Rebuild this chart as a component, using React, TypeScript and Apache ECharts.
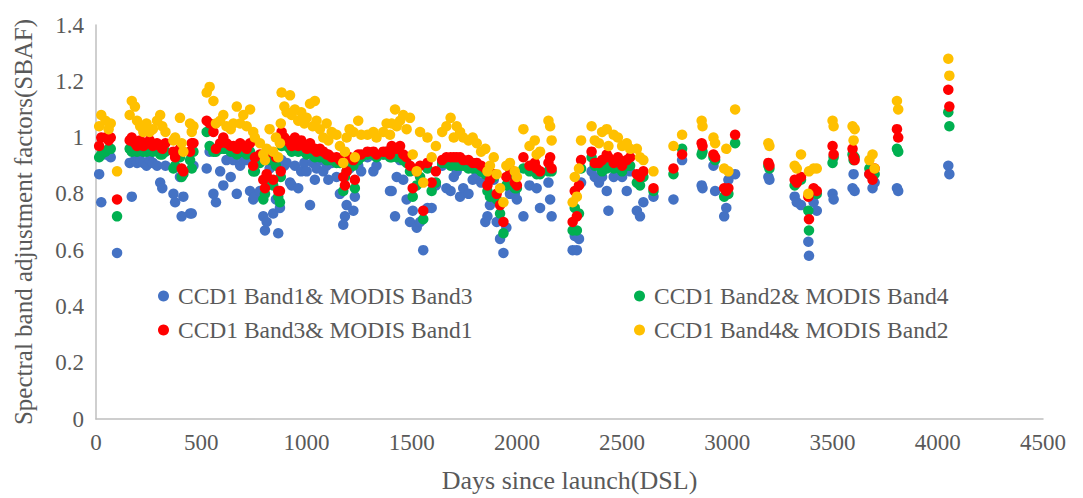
import React, { useEffect, useRef } from "react";
import * as echarts from "echarts";

const seriesNames = [
  "CCD1 Band1& MODIS Band3",
  "CCD1 Band2& MODIS Band4",
  "CCD1 Band3& MODIS Band1",
  "CCD1 Band4& MODIS Band2",
];
const colors = ["#4472C4", "#00B050", "#FF0000", "#FFC000"];

const days = [
  15, 25, 45, 60, 70, 100,
  160, 170, 185, 195, 210, 225, 240, 255, 270, 290, 305, 315, 330,
  368, 376, 399, 407, 415, 447, 455, 463,
  526, 540, 558, 570, 590, 605, 620, 640, 653, 669, 685,
  700, 716, 732, 747, 755, 779, 795, 803, 811, 825, 842, 855, 866, 874, 878,
  882, 895, 906, 922, 930, 945, 961, 975, 990, 1001, 1017, 1030, 1040, 1048,
  1064, 1080, 1096, 1104, 1120, 1143, 1159, 1175, 1183, 1191, 1205, 1223, 1230, 1246, 1260,
  1290, 1318, 1333, 1365, 1381, 1397,
  1405, 1421, 1429, 1445, 1460, 1476, 1492, 1505, 1524, 1540, 1555, 1575, 1595, 1615,
  1645, 1665, 1685, 1700, 1714, 1730, 1745, 1770, 1790, 1809, 1830, 1850, 1860, 1872,
  1890, 1904, 1920, 1936, 1950, 1967, 1990, 2000, 2031, 2060, 2085, 2094,
  2110, 2150, 2158, 2165,
  2265, 2275, 2285, 2295, 2305,
  2355, 2370, 2390, 2405, 2427, 2435, 2460, 2480, 2500, 2522, 2538,
  2570, 2585, 2601, 2649, 2744, 2785,
  2878, 2882, 2934, 2942, 2985, 2995, 3005, 3037, 3195, 3200,
  3320, 3330, 3350, 3385, 3388, 3410, 3425, 3500, 3505,
  3595, 3600, 3605, 3675, 3690, 3700, 3806, 3812, 4050, 4055,
];

const band1 = [
  0.87, 0.77, 0.94, 0.95, 0.93, 0.59,
  0.91, 0.79, 0.92, 0.91, 0.92, 0.91, 0.90, 0.92, 0.91, 0.90, 0.84, 0.82, 0.90,
  0.80, 0.77, 0.86, 0.72, 0.79, 0.73, 0.73, 0.90,
  0.89, 0.95, 0.80, 0.77, 0.88, 0.83, 0.92, 0.86, 0.92, 0.80, 0.90,
  0.92, 0.92, 0.81, 0.78, 0.79, 0.81, 0.72, 0.67, 0.70, 0.89, 0.73, 0.78, 0.66, 0.75, 0.90,
  0.92, 0.90, 0.91, 0.84, 0.83, 0.90, 0.82, 0.88, 0.91, 0.88, 0.76, 0.91, 0.85, 0.89,
  0.92, 0.88, 0.90, 0.85, 0.91, 0.86, 0.80, 0.69, 0.72, 0.76, 0.89, 0.74, 0.79, 0.90, 0.88,
  0.93, 0.88, 0.90, 0.94, 0.95, 0.81,
  0.81, 0.72, 0.86, 0.92, 0.85, 0.78, 0.70, 0.74, 0.68, 0.70, 0.60, 0.75, 0.75, 0.83,
  0.90, 0.82, 0.81, 0.86, 0.88, 0.79, 0.82, 0.80, 0.85, 0.87, 0.84, 0.70, 0.72, 0.76,
  0.85, 0.70, 0.64, 0.59, 0.68, 0.80, 0.80, 0.78, 0.72, 0.83, 0.88, 0.82,
  0.75, 0.84, 0.78, 0.72,
  0.60, 0.65, 0.60, 0.64, 0.84,
  0.88, 0.86, 0.84, 0.86, 0.81, 0.74, 0.86, 0.87, 0.86, 0.81, 0.88,
  0.74, 0.72, 0.77, 0.79, 0.78, 0.92,
  0.83, 0.82, 0.90, 0.81, 0.72, 0.75, 0.85, 0.87, 0.86, 0.85,
  0.79, 0.77, 0.76, 0.63, 0.58, 0.77, 0.74, 0.80, 0.78,
  0.82, 0.87, 0.81, 0.87, 0.82, 0.84, 0.82, 0.81, 0.90, 0.87,
];

const band2 = [
  0.93, 0.94, 0.95, 0.96, 0.96, 0.72,
  0.96, 0.95, 0.96, 0.95, 0.96, 0.95, 0.95, 0.96, 0.95, 0.96, 0.94, 0.94, 0.95,
  0.89, 0.90, 0.93, 0.86, 0.87, 0.92, 0.89, 0.95,
  1.02, 0.97, 0.95, 0.95, 0.96, 0.96, 0.96, 0.95, 0.96, 0.94, 0.95,
  0.95, 0.94, 0.95, 0.88, 0.88, 0.91, 0.78, 0.80, 0.84, 0.92, 0.83, 0.90, 0.79, 0.77, 0.86,
  0.97, 0.98, 0.97, 0.96, 0.95, 0.96, 0.95, 0.96, 0.95, 0.94, 0.95, 0.94, 0.93, 0.94,
  0.93, 0.93, 0.92, 0.92, 0.92, 0.91, 0.91, 0.81, 0.86, 0.88, 0.91, 0.90, 0.82, 0.92, 0.93,
  0.94, 0.94, 0.93, 0.94, 0.94, 0.93,
  0.93, 0.95, 0.93, 0.94, 0.92, 0.91, 0.88, 0.79, 0.83, 0.86, 0.71, 0.89, 0.81, 0.84,
  0.91, 0.91, 0.90, 0.91, 0.90, 0.90, 0.90, 0.89, 0.89, 0.89, 0.88, 0.87, 0.81, 0.79,
  0.86, 0.78, 0.73, 0.66, 0.83, 0.87, 0.82, 0.82, 0.89, 0.88, 0.89, 0.87,
  0.87, 0.88, 0.89, 0.88,
  0.67, 0.75, 0.67, 0.73, 0.89,
  0.93, 0.90, 0.90, 0.88, 0.89, 0.91, 0.89, 0.91, 0.88, 0.90, 0.90,
  0.84, 0.83, 0.86, 0.81, 0.87, 0.96,
  0.94, 0.95, 0.93, 0.92, 0.79, 0.80, 0.80, 0.98, 0.90, 0.89,
  0.83, 0.84, 0.85, 0.74, 0.67, 0.81, 0.80, 0.91, 0.93,
  0.94, 0.92, 0.93, 0.89, 0.86, 0.87, 0.96, 0.95, 1.09, 1.04,
];

const band3 = [
  0.97, 1.00, 1.00, 0.99, 1.00, 0.78,
  0.99, 1.00, 0.98, 0.97, 0.99, 0.97, 0.98, 0.99, 0.97, 0.98, 0.97, 0.96, 0.98,
  0.95, 0.93, 0.96, 0.89, 0.88, 0.95, 0.98, 0.98,
  1.06, 1.05, 1.02, 0.96, 0.98, 1.00, 0.98, 0.97, 0.97, 0.96, 0.98,
  0.97, 0.96, 0.98, 0.90, 0.93, 0.94, 0.85, 0.82, 0.87, 0.95, 0.85, 0.93, 0.81, 0.81, 0.88,
  1.02, 1.00, 0.99, 0.98, 0.97, 1.00, 0.97, 0.99, 0.97, 0.96, 0.98, 0.96, 0.96, 0.95,
  0.96, 0.95, 0.94, 0.94, 0.93, 0.93, 0.92, 0.86, 0.83, 0.88, 0.93, 0.92, 0.85, 0.94, 0.94,
  0.95, 0.95, 0.94, 0.95, 0.95, 0.94,
  0.97, 0.96, 0.96, 0.97, 0.94, 0.93, 0.90, 0.82, 0.88, 0.90, 0.74, 0.91, 0.84, 0.88,
  0.92, 0.93, 0.93, 0.93, 0.93, 0.93, 0.92, 0.92, 0.91, 0.91, 0.90, 0.89, 0.83, 0.85,
  0.87, 0.80, 0.76, 0.70, 0.86, 0.89, 0.84, 0.83, 0.93, 0.90, 0.91, 0.89,
  0.88, 0.91, 0.93, 0.89,
  0.70, 0.81, 0.72, 0.83, 0.92,
  0.95, 0.91, 0.91, 0.92, 0.94, 0.93, 0.91, 0.93, 0.90, 0.92, 0.93,
  0.87, 0.86, 0.88, 0.82, 0.89, 0.94,
  0.98, 0.97, 0.94, 0.93, 0.82, 0.81, 0.82, 1.01, 0.91, 0.90,
  0.85, 0.84, 0.86, 0.79, 0.71, 0.82, 0.81, 0.97, 0.94,
  0.96, 0.93, 0.92, 0.87, 0.85, 0.89, 1.03, 1.00, 1.17, 1.11,
];

const band4 = [
  1.04, 1.08, 1.06, 1.03, 1.05, 0.88,
  1.08, 1.13, 1.11, 1.06, 1.04, 1.02, 1.05, 1.02, 1.03, 1.06, 1.08, 1.04, 1.02,
  0.99, 1.00, 1.07, 0.98, 0.95, 1.05, 1.02, 1.04,
  1.16, 1.18, 1.13, 1.05, 1.06, 1.08, 1.04, 1.03, 1.05, 1.11, 1.05,
  1.08, 1.04, 1.10, 1.02, 1.00, 0.98, 0.94, 0.92, 0.96, 1.03, 0.95, 1.00, 0.93, 0.98, 1.05,
  1.16, 1.11, 1.09, 1.15, 1.08, 1.10, 1.06, 1.09, 1.05, 1.07, 1.12, 1.04, 1.13, 1.06,
  1.03, 1.00, 1.05, 0.99, 1.02, 1.01, 0.97, 0.91, 0.95, 1.00, 1.03, 1.02, 0.93, 1.06, 1.01,
  1.01, 1.02, 1.00, 1.02, 1.05, 1.01,
  1.05, 1.10, 1.04, 1.06, 1.08, 1.03, 1.07, 0.94, 0.88, 1.02, 0.84, 1.00, 0.93, 0.97,
  1.02, 1.04, 1.07, 1.00, 1.04, 1.02, 1.00, 0.99, 1.00, 0.98, 0.95, 0.96, 0.88, 0.90,
  0.93, 0.87, 0.82, 0.77, 0.90, 0.91, 0.88, 0.86, 1.03, 0.97, 0.99, 0.94,
  0.95, 1.06, 1.04, 0.99,
  0.77, 0.86, 0.79, 0.89, 0.99,
  1.04, 0.99, 0.98, 1.02, 1.03, 0.97, 1.01, 1.00, 0.97, 0.98, 0.96,
  0.96, 0.93, 0.92, 0.88, 0.97, 1.01,
  1.06, 1.04, 1.00, 0.98, 0.89, 0.96, 0.88, 1.10, 0.98, 0.97,
  0.90, 0.89, 0.94, 0.80, 0.88, 0.89, 0.89, 1.06, 1.04,
  1.04, 0.99, 1.03, 0.92, 0.94, 0.89, 1.13, 1.10, 1.28, 1.22,
];

const xTicks = { min: 0, max: 4500, interval: 500 };
const yTicks = { min: 0, max: 1.4, interval: 0.2 };

const FONT = '"Liberation Serif", "Times New Roman", serif';
const TEXT = "#595959";

export default function App() {
  const ref = useRef<HTMLDivElement>(null);
  useEffect(() => {
    document.body.style.margin = "0";
    const chart = echarts.init(ref.current!, null, { renderer: "svg" });
    const bands = [band1, band2, band3, band4];
    const legendBase = {
      orient: "vertical",
      top: 279,
      itemGap: 10,
      itemWidth: 11,
      itemHeight: 11,
      icon: "circle",
      textStyle: { fontFamily: FONT, fontSize: 23.5, color: TEXT, padding: [0, 0, 0, 4] },
    };
    chart.setOption({
      animation: false,
      backgroundColor: "#ffffff",
      textStyle: { fontFamily: FONT },
      grid: { left: 96, right: 40, top: 25, bottom: 77.5 },
      legend: [
        { ...legendBase, data: [seriesNames[0], seriesNames[2]], left: 153 },
        { ...legendBase, data: [seriesNames[1], seriesNames[3]], left: 629 },
      ],
      xAxis: {
        type: "value",
        min: xTicks.min,
        max: xTicks.max,
        interval: xTicks.interval,
        name: "Days since launch(DSL)",
        nameLocation: "middle",
        nameGap: 48,
        nameTextStyle: { fontFamily: FONT, fontSize: 26, color: TEXT },
        axisLine: { show: true, lineStyle: { color: "#BFBFBF", width: 1.5 } },
        axisTick: { show: false },
        splitLine: { show: false },
        axisLabel: {
          fontFamily: FONT,
          fontSize: 23,
          color: TEXT,
          margin: 12,
          formatter: (v: number) => String(v),
        },
      },
      yAxis: {
        type: "value",
        min: yTicks.min,
        max: yTicks.max,
        interval: yTicks.interval,
        name: "Spectral band adjustment factors(SBAF)",
        nameLocation: "middle",
        nameGap: 60,
        nameTextStyle: { fontFamily: FONT, fontSize: 25, color: TEXT },
        axisLine: { show: true, lineStyle: { color: "#BFBFBF", width: 1.5 } },
        axisTick: { show: false },
        splitLine: { show: false },
        axisLabel: {
          fontFamily: FONT,
          fontSize: 23,
          color: TEXT,
          margin: 12,
          formatter: (v: number) => String(+v.toFixed(1)),
        },
      },
      series: bands.map((b, i) => ({
        name: seriesNames[i],
        type: "scatter",
        symbol: "circle",
        symbolSize: 10.5,
        itemStyle: { color: colors[i], opacity: 1 },
        data: days.map((d, j) => [d, b[j]]),
        z: 2 + i,
      })),
    });
    return () => chart.dispose();
  }, []);
  return <div ref={ref} style={{ width: 1083, height: 498 }} />;
}
